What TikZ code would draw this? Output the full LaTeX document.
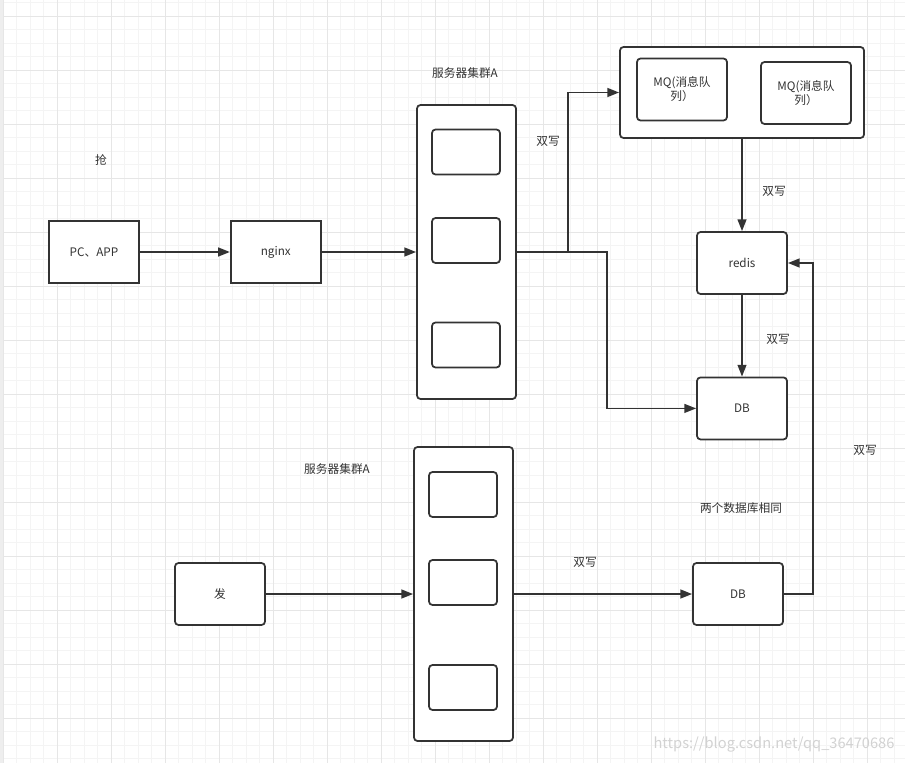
\documentclass[tikz,border=0pt]{standalone}
\usepackage{fontspec}
\setmainfont{Noto Sans CJK SC}
\usepackage{xcolor}
\usepackage{tikz}
\usetikzlibrary{arrows.meta, positioning}
\definecolor{lnink}{HTML}{333333}
\definecolor{gridmin}{HTML}{F4F4F4}
\definecolor{gridmaj}{HTML}{E6E6E6}
\definecolor{edgegray}{HTML}{EEEEEE}
\definecolor{wmark}{HTML}{D2D2D2}

\begin{document}
\begin{tikzpicture}[x=0.03cm, y=-0.03cm, font=\fontsize{10}{12}\selectfont, text=lnink,
        box/.style={draw=lnink, line width=1.5pt, fill=white, minimum width=2.7cm,
          minimum height=1.86cm, align=center, inner sep=1pt},
        rbox/.style={box, rounded corners=3pt},
        cluster/.style={rbox, minimum width=2.97cm, minimum height=8.82cm},
        slot/.style={rbox, minimum width=2.04cm, minimum height=1.35cm},
        lbl/.style={inner sep=1pt},
        arr/.style={-{Triangle[length=10pt,width=7.5pt]}, draw=lnink, line width=1.5pt}]
        % background grid
        \useasboundingbox (0,0) rectangle (905,763);
        \fill[white] (0,0) rectangle (905,763);
        \foreach \k in {0,...,66} \draw[gridmin, line width=0.6pt] ({3+13.5*\k},0) -- ++(0,763);
        \foreach \k in {0,...,56} \draw[gridmin, line width=0.6pt] (0,{2.5+13.5*\k}) -- ++(905,0);
        \foreach \k in {0,...,16} \draw[gridmaj, line width=0.8pt] ({3+54*\k},0) -- ++(0,763);
        \foreach \k in {0,...,14} \draw[gridmaj, line width=0.8pt] (0,{16+54*\k}) -- ++(905,0);
        \fill[edgegray] (0,0) rectangle (3,763);

        % upper part
        \node[lbl] (qiang) at (101,160) {抢};
        \node[box] (pcapp) at (94,252) {PC、APP};
        \node[box, right=2.7cm of pcapp] (nginx) {nginx};
        \node[lbl] (srvAlbl) at (465,73) {服务器集群A};
        \node[cluster] (srvA) at (466.5,252) {};
        \node[slot] (slotA1) at (466,152) {};
        \node[slot] (slotA2) at (466,240.5) {};
        \node[slot] (slotA3) at (466,345) {};

        \node[rbox, minimum width=7.32cm, minimum height=2.73cm] (mq) at (742,92.5) {};
        \node[rbox] (mqA) at (682,89.5) {MQ(消息队\\列）};
        \node[rbox] (mqB) at (806,93) {MQ(消息队\\列）};
        \node[rbox] (redis) at (742,263) {redis};
        \node[rbox, below=2.45cm of redis] (dbA) {DB};

        \coordinate (splitmq) at (568,252);
        \coordinate (splitdb) at (607,252);
        \draw[arr] (pcapp) -- (nginx);
        \draw[arr] (nginx) -- (srvA);
        \draw[arr] (srvA.east) -- (splitmq) |- (mq.west);
        \draw[arr] (srvA.east) -- (splitdb) |- (dbA.west);
        \draw[arr] (mq.south) -- (redis.north);
        \draw[arr] (redis.south) -- (dbA.north);

        \node[lbl] (dwA) at (548,141) {双写};
        \node[lbl] (dwB) at (774,191) {双写};
        \node[lbl] (dwC) at (778,339) {双写};

        % lower part
        \node[lbl] (srvBlbl) at (337,469) {服务器集群A};
        \node[cluster] (srvB) at (463.5,594) {};
        \node[slot] (slotB1) at (463,494.5) {};
        \node[slot] (slotB2) at (463,582.5) {};
        \node[slot] (slotB3) at (463,687.5) {};
        \node[rbox] (fa) at (220,594) {发};
        \node[rbox] (dbB) at (738,594) {DB};
        \node[lbl] (same) at (741,508) {两个数据库相同};

        \coordinate (backup) at (813,594);
        \draw[arr] (fa) -- (fa -| srvB.west);
        \draw[arr] (srvB.east |- dbB) -- (dbB);
        \draw[arr] (dbB.east) -- (backup) |- (redis.east);

        \node[lbl] (dwD) at (585,562) {双写};
        \node[lbl] (dwE) at (865,450) {双写};

        \node[lbl, text=wmark, font=\fontsize{12.5}{14}\selectfont] (wm) at (774,744) {https://blog.csdn.net/qq\_36470686};
      \end{tikzpicture}
\end{document}
